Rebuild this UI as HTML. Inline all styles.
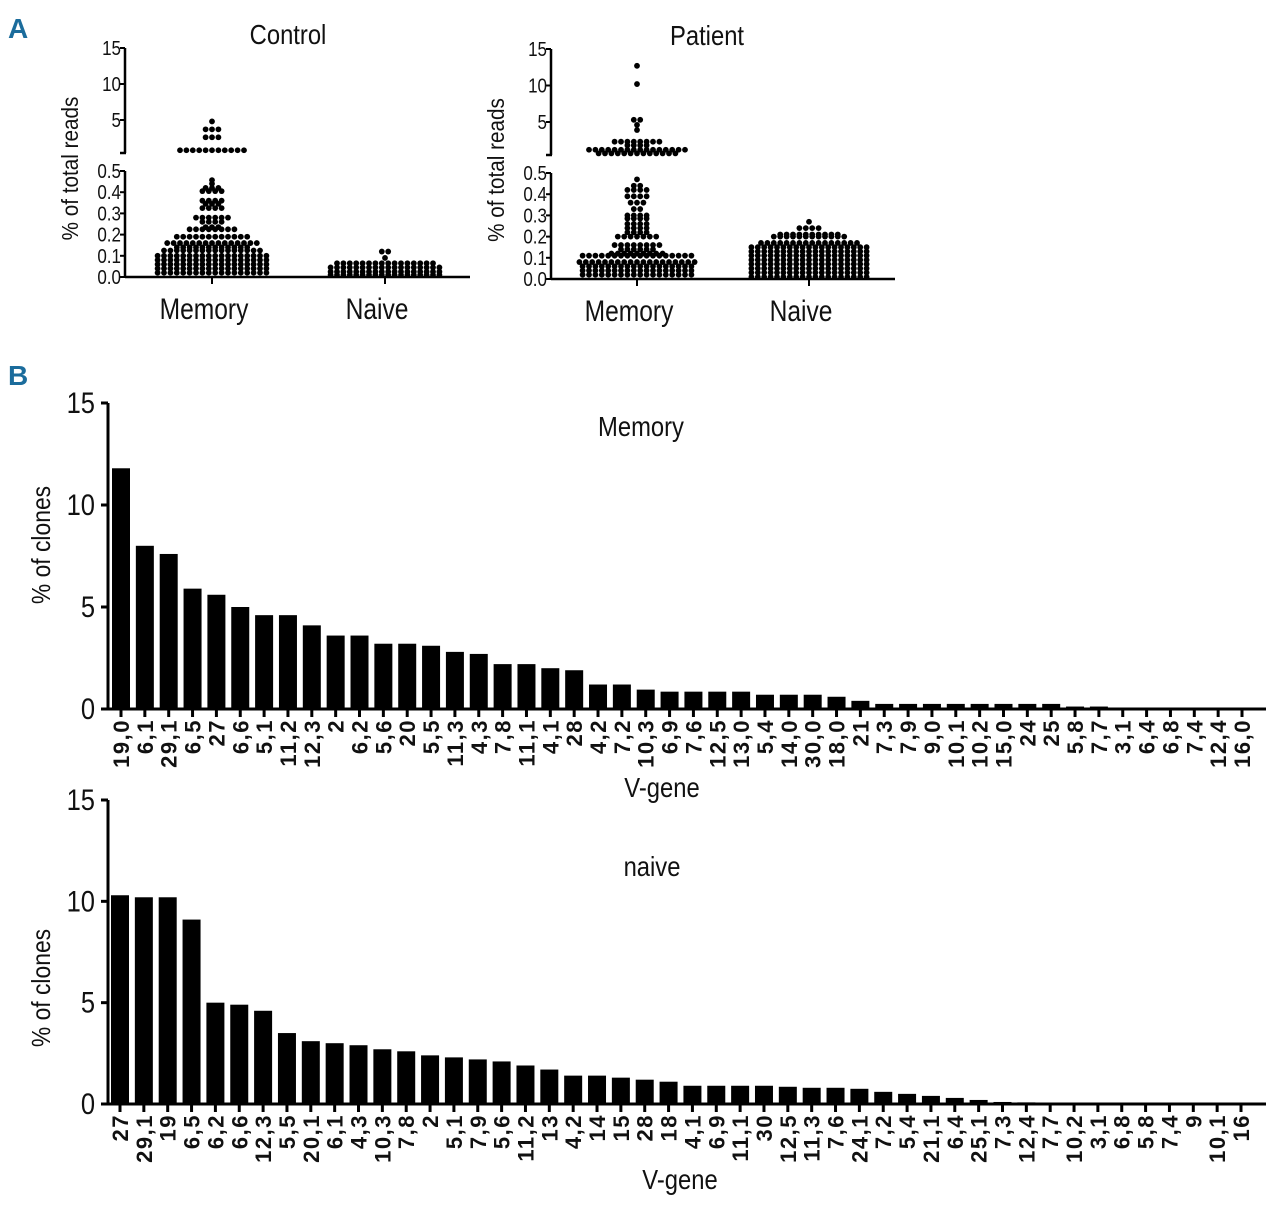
<!DOCTYPE html>
<html><head><meta charset="utf-8"><style>
body{margin:0;background:#fff}
svg{display:block}
text{font-family:"Liberation Sans Narrow","Liberation Sans",sans-serif;fill:#111}
.tl{font-family:"Liberation Sans",sans-serif;font-weight:bold;font-size:22px;letter-spacing:1.5px}
</style></head><body>
<svg id="fig" width="1280" height="1205" viewBox="0 0 1280 1205" xmlns="http://www.w3.org/2000/svg">
<text x="8" y="38" style="font-family:'Liberation Sans',sans-serif;font-weight:bold;font-size:28px;fill:#1b6c9c">A</text>
<text x="8" y="385" style="font-family:'Liberation Sans',sans-serif;font-weight:bold;font-size:28px;fill:#1b6c9c">B</text>
<g id="pa"></g><g id="pb"></g>
</svg>
<script>
// ---------- Panel A data (value levels and dot counts) ----------
const ctrlMemUpperLevels=[4.8,3.7,2.6,0.8];
const ctrlMemUpperCounts=[1,3,3,11];
const ctrlMemLevels=[0.457,0.44,0.42,0.405,0.36,0.345,0.325,0.28,0.26,0.235,0.225,0.19,0.16,0.14,0.125,0.1,0.08,0.06,0.04,0.02];
const ctrlMemCounts=[1,1,3,4,4,3,4,6,4,3,8,12,15,12,16,18,18,18,18,18];
const ctrlNaiveLevels=[0.12,0.09,0.065,0.045,0.025,0.01];
const ctrlNaiveCounts=[2,1,16,18,18,18];
const patMemUpperLevels=[12.7,10.2,5.3,4.6,3.9,2.3,1.8,1.2,0.7];
const patMemUpperCounts=[1,1,2,1,1,8,4,16,13];
const patMemLevels=[0.47,0.44,0.42,0.39,0.36,0.33,0.30,0.285,0.26,0.24,0.22,0.2,0.16,0.14,0.12,0.11,0.08,0.06,0.04,0.02];
const patMemCounts=[1,2,4,4,3,2,4,4,4,4,4,7,8,6,9,18,19,18,18,18];
const patNaiveLevels=[0.27,0.24,0.21,0.2,0.17,0.15,0.13,0.11,0.09,0.07,0.05,0.03,0.01];
const patNaiveCounts=[1,4,10,12,16,19,19,19,19,19,19,19,19];
const groupNames=["Memory","Naive"];
const upperTicks=[15,10,5];
const lowerTicks=["0.0","0.1","0.2","0.3","0.4","0.5"];

// ---------- Panel B data ----------
const memGenes=["19,0","6,1","29,1","6,5","27","6,6","5,1","11,2","12,3","2","6,2","5,6","20","5,5","11,3","4,3","7,8","11,1","4,1","28","4,2","7,2","10,3","6,9","7,6","12,5","13,0","5,4","14,0","30,0","18,0","21","7,3","7,9","9,0","10,1","10,2","15,0","24","25","5,8","7,7","3,1","6,4","6,8","7,4","12,4","16,0"];
const memValues=[11.8,8.0,7.6,5.9,5.6,5.0,4.6,4.6,4.1,3.6,3.6,3.2,3.2,3.1,2.8,2.7,2.2,2.2,2.0,1.9,1.2,1.2,0.95,0.85,0.85,0.85,0.85,0.7,0.7,0.7,0.6,0.4,0.25,0.25,0.25,0.25,0.25,0.25,0.25,0.25,0.12,0.12,0,0,0,0,0,0];
const naiveGenes=["27","29,1","19","6,5","6,2","6,6","12,3","5,5","20,1","6,1","4,3","10,3","7,8","2","5,1","7,9","5,6","11,2","13","4,2","14","15","28","18","4,1","6,9","11,1","30","12,5","11,3","7,6","24,1","7,2","5,4","21,1","6,4","25,1","7,3","12,4","7,7","10,2","3,1","6,8","5,8","7,4","9","10,1","16"];
const naiveValues=[10.3,10.2,10.2,9.1,5.0,4.9,4.6,3.5,3.1,3.0,2.9,2.7,2.6,2.4,2.3,2.2,2.1,1.9,1.7,1.4,1.4,1.3,1.2,1.1,0.9,0.9,0.9,0.9,0.85,0.8,0.8,0.75,0.6,0.5,0.4,0.3,0.2,0.1,0.08,0.05,0.03,0,0,0,0,0,0,0];
const barTicks=[0,5,10,15];

const NS="http://www.w3.org/2000/svg";
function mk(tag,attrs,parent,txt){const e=document.createElementNS(NS,tag);for(const k in attrs)e.setAttribute(k,attrs[k]);if(txt!==undefined)e.textContent=txt;parent.appendChild(e);return e;}

const pa=document.getElementById('pa');
function scatterPanel(cfg){
  const g=mk('g',{},pa);
  
  
  const uy=v=>cfg.u5-(v-5)*cfg.upx;
  const ly=v=>cfg.y0-v*cfg.lpx;
  let a=mk('line',{x1:cfg.ax,y1:uy(15),x2:cfg.ax,y2:cfg.ubot,stroke:'#000','stroke-width':2.5},g);
  
  mk('line',{x1:cfg.ax-5,y1:cfg.ubot,x2:cfg.ax+1,y2:cfg.ubot,stroke:'#000','stroke-width':2.5},g);
  a=mk('line',{x1:cfg.ax,y1:ly(0.5),x2:cfg.ax,y2:cfg.y0,stroke:'#000','stroke-width':2.5},g);
  
  a=mk('line',{x1:cfg.ax,y1:cfg.y0,x2:cfg.xend,y2:cfg.y0,stroke:'#000','stroke-width':2.5},g);
  
  upperTicks.forEach(t=>{
    mk('line',{x1:cfg.ax-5,y1:uy(t),x2:cfg.ax,y2:uy(t),stroke:'#000','stroke-width':2},g);
    const tx=mk('text',{x:cfg.ax-4,y:uy(t)+7,'text-anchor':'end','font-size':20,transform:`translate(${(cfg.ax-4)*0.15},0) scale(0.85,1)`},g,String(t));
    
  });
  lowerTicks.forEach(t=>{
    const v=parseFloat(t);
    mk('line',{x1:cfg.ax-5,y1:ly(v),x2:cfg.ax,y2:ly(v),stroke:'#000','stroke-width':2},g);
    const tx=mk('text',{x:cfg.ax-4,y:ly(v)+7,'text-anchor':'end','font-size':20,transform:`translate(${(cfg.ax-4)*0.15},0) scale(0.85,1)`},g,t);
    
  });
  const yl=mk('text',{x:0,y:0,transform:`translate(${cfg.ax-47},${(uy(15)+cfg.y0)/2+6}) rotate(-90) scale(0.9,1)`,'text-anchor':'middle','font-size':23},g,'% of total reads');
  
  const tt=mk('text',{x:0,y:0,'text-anchor':'middle','font-size':28,transform:`translate(${cfg.titleX},${cfg.titleY}) scale(0.85,1)`},g,cfg.title);
  
  cfg.cx.forEach((cx,i)=>{
    mk('line',{x1:cx,y1:cfg.y0,x2:cx,y2:cfg.y0+7,stroke:'#000','stroke-width':2},g);
    const lab=mk('text',{x:0,y:0,'text-anchor':'middle','font-size':30,transform:`translate(${cx-8},${cfg.y0+42}) scale(0.82,1)`},g,groupNames[i]);
    
  });
  function swarm(levels,counts,cx,yf){
    levels.forEach((v,i)=>{
      const n=counts[i];
      for(let k=0;k<n;k++){
        const d=mk('circle',{cx:cx+(k-(n-1)/2)*6.4,cy:yf(v),r:2.9,fill:'#000'},g);
        
        
      }
    });
  }
  cfg.series.forEach(s=>swarm(s.levels,s.counts,cfg.cx[s.grp],s.upper?uy:ly));
}
scatterPanel({name:'control-scatter',ax:125,u5:120,upx:7.2,ubot:153,y0:277,lpx:212,xend:470,cx:[212,385],title:'Control',titleX:288,titleY:44,
  series:[{levels:ctrlMemUpperLevels,counts:ctrlMemUpperCounts,grp:0,upper:true},{levels:ctrlMemLevels,counts:ctrlMemCounts,grp:0},{levels:ctrlNaiveLevels,counts:ctrlNaiveCounts,grp:1}]});
scatterPanel({name:'patient-scatter',ax:551,u5:122,upx:7.3,ubot:155,y0:279,lpx:212,xend:895,cx:[637,809],title:'Patient',titleX:707,titleY:45,
  series:[{levels:patMemUpperLevels,counts:patMemUpperCounts,grp:0,upper:true},{levels:patMemLevels,counts:patMemCounts,grp:0},{levels:patNaiveLevels,counts:patNaiveCounts,grp:1}]});

const pb=document.getElementById('pb');
function barChart(cfg){
  const g=mk('g',{},pb);
  
  
  const y=v=>cfg.y0-v*(cfg.y0-cfg.y15)/15;
  const x=i=>cfg.x0+i*(cfg.x1-cfg.x0)/(cfg.genes.length-1);
  cfg.values.forEach((v,i)=>{
    const b=mk('rect',{x:x(i)-9,y:y(v),width:18,height:cfg.y0-y(v),fill:'#000'},g);
    
    
  });
  let a=mk('line',{x1:108,y1:cfg.y15,x2:108,y2:cfg.y0,stroke:'#000','stroke-width':3},g);
  
  a=mk('line',{x1:101,y1:cfg.y0,x2:1266,y2:cfg.y0,stroke:'#000','stroke-width':3},g);
  
  barTicks.forEach(t=>{
    mk('line',{x1:101,y1:y(t),x2:108,y2:y(t),stroke:'#000','stroke-width':3},g);
    const tx=mk('text',{x:0,y:0,'text-anchor':'end','font-size':30,transform:`translate(95,${y(t)+10}) scale(0.85,1)`},g,String(t));
    
  });
  cfg.genes.forEach((s,i)=>{
    mk('line',{x1:x(i),y1:cfg.y0,x2:x(i),y2:cfg.y0+8,stroke:'#000','stroke-width':3},g);
    const t=mk('text',{x:0,y:0,class:'tl','text-anchor':'end',transform:`translate(${x(i)+8},${cfg.y0+10}) rotate(-90)`},g,s);
    
    
  });
  const yl=mk('text',{x:0,y:0,'text-anchor':'middle','font-size':26,transform:`translate(50,${cfg.yTitleY}) rotate(-90) scale(0.88,1)`},g,'% of clones');
  
  const xt=mk('text',{x:0,y:0,'text-anchor':'middle','font-size':28,transform:`translate(${cfg.xTitleX},${cfg.xTitleY}) scale(0.85,1)`},g,'V-gene');
  
  const tt=mk('text',{x:0,y:0,'text-anchor':'middle','font-size':28,transform:`translate(${cfg.titleX},${cfg.titleY}) scale(0.85,1)`},g,cfg.title);
  
}
barChart({name:'memory-bar-chart',genes:memGenes,values:memValues,y0:709,y15:403,x0:121,x1:1242,title:'Memory',titleX:641,titleY:436,xTitleX:662,xTitleY:797,yTitleY:545});
barChart({name:'naive-bar-chart',genes:naiveGenes,values:naiveValues,y0:1104,y15:800,x0:120,x1:1241,title:'naive',titleX:652,titleY:876,xTitleX:680,xTitleY:1189,yTitleY:988});
</script>
</body></html>
